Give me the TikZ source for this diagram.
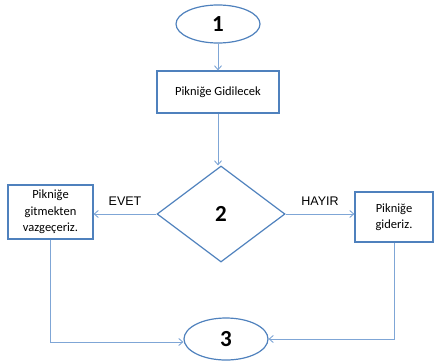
\documentclass[tikz,border=0pt]{standalone}
\usepackage{fontspec}
\setmainfont{Carlito}
\newfontfamily\arialf{Liberation Sans}
\usetikzlibrary{shapes.geometric,arrows.meta}
\definecolor{edge}{HTML}{4F81BD}
\definecolor{conn}{HTML}{7FA6D6}
\begin{document}
\begin{tikzpicture}[x=1pt,y=-1pt,
  term/.style={ellipse,draw=edge,line width=1.2pt,minimum width=84pt,minimum height=38pt,inner sep=0pt,font=\fontsize{23}{26}\selectfont\bfseries},
  proc/.style={rectangle,draw=edge,line width=1.2pt,inner sep=0pt,align=center,font=\fontsize{12.5}{16.5}\selectfont},
  dec/.style={diamond,draw=edge,line width=1.2pt,minimum width=128pt,minimum height=96pt,inner sep=0pt,font=\fontsize{23}{26}\selectfont\bfseries},
  conn/.style={draw=conn,line width=0.9pt,-{Straight Barb[length=4pt,width=7pt]}},
  lbl/.style={font=\arialf\fontsize{12.5}{14}\selectfont}]
\useasboundingbox (0,0) rectangle (435,361);
\node[term] (s1) at (218,24) {1};
\node[proc,minimum width=122pt,minimum height=42pt] (p1) at (218,92) {Pikniğe Gidilecek};
\node[dec] (d) at (221,214) {2};
\node[proc,minimum width=85pt,minimum height=54pt] (l) at (50.5,212) {Pikniğe\\gitmekten\\vazgeçeriz.};
\node[proc,minimum width=78pt,minimum height=50pt] (r) at (394,217) {Pikniğe\\gideriz.};
\node[term,minimum height=42pt] (s3) at (226,339) {3};
\coordinate (lc) at (l.south |- 0,342);
\coordinate (rc) at (r.south |- 0,339);
\draw[conn] (s1) -- (p1);
\draw[conn] (p1.south) -- (p1.south |- d.north);
\draw[conn] (d.west) -- (l.east |- d.west);
\draw[conn] (d.east) -- (r.west |- d.east);
\draw[conn] (l.south) -- (lc) -- (lc -| s3.west);
\draw[conn] (r.south) -- (rc) -- (rc -| s3.east);
\node[lbl] (ev) at (125,201) {EVET};
\node[lbl] (hy) at (320,201) {HAYIR};
\end{tikzpicture}
\end{document}
